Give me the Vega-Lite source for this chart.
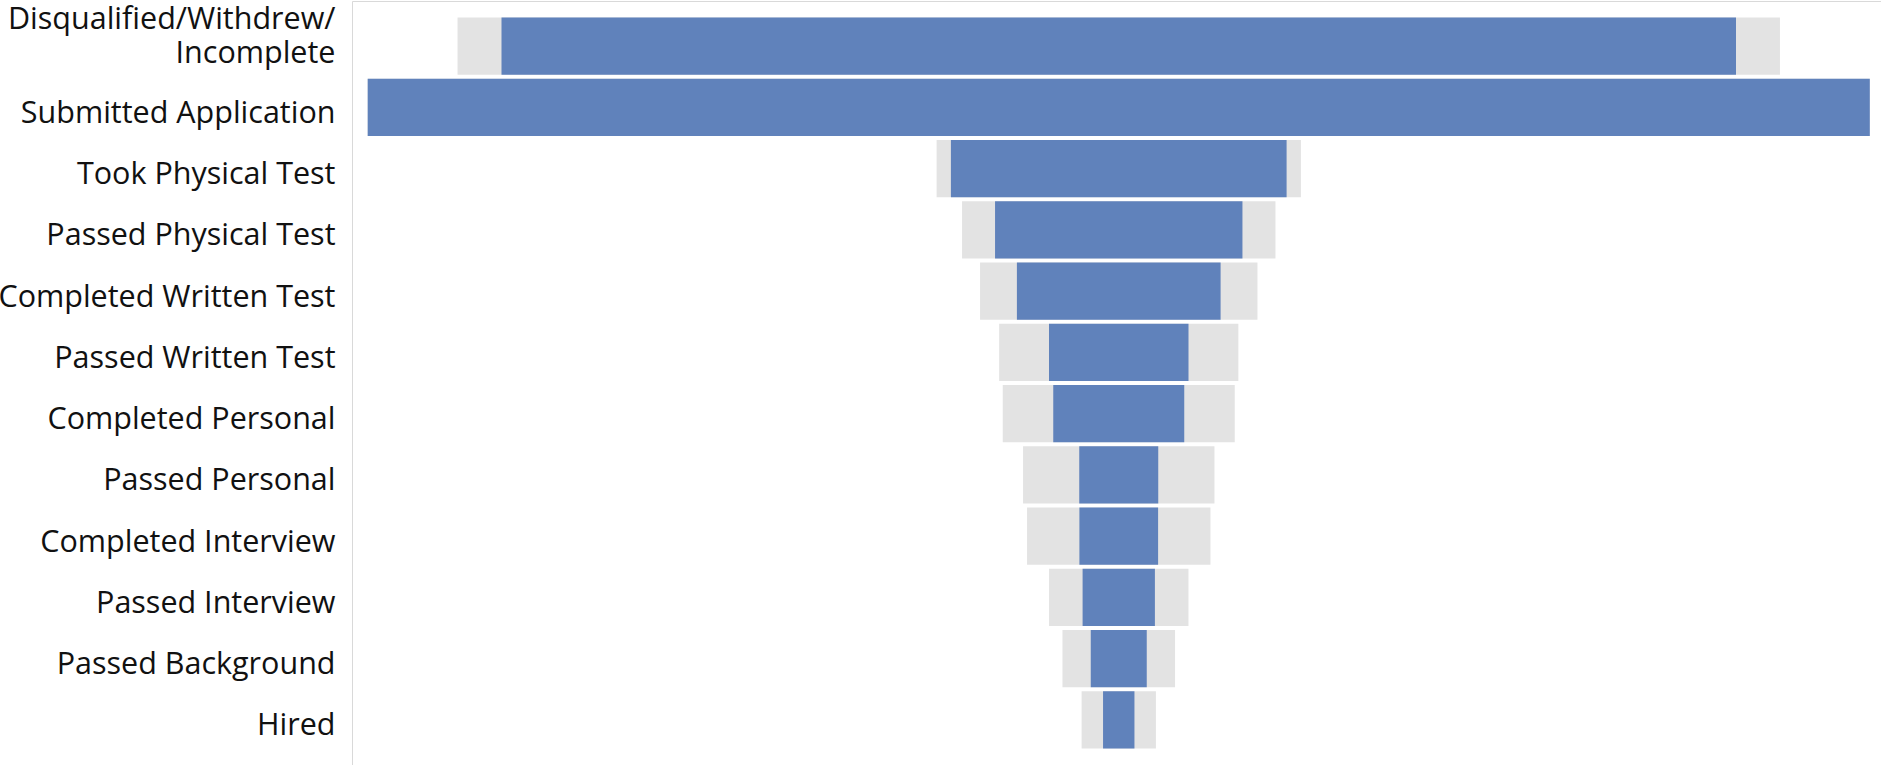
{
  "$schema": "https://vega.github.io/schema/vega-lite/v6.json",
  "autosize": {"type": "none"},
  "padding": {"left": 352, "top": 1, "right": 0, "bottom": 0},
  "width": 1529,
  "height": 764,
  "background": "#ffffff",
  "config": {
    "view": {"stroke": null},
    "font": "Open Sans"
  },
  "data": {
    "values": [
      {"stage": "Disqualified/Withdrew/Incomplete", "value": 1234.5, "reference": 1322.4},
      {"stage": "Submitted Application", "value": 1502.1, "reference": 1502.1},
      {"stage": "Took Physical Test", "value": 335.7, "reference": 364.3},
      {"stage": "Passed Physical Test", "value": 247.4, "reference": 313.4},
      {"stage": "Completed Written Test", "value": 203.7, "reference": 277.4},
      {"stage": "Passed Written Test", "value": 139.5, "reference": 239.2},
      {"stage": "Completed Personal", "value": 131.0, "reference": 232.0},
      {"stage": "Passed Personal", "value": 79.0, "reference": 191.4},
      {"stage": "Completed Interview", "value": 78.7, "reference": 183.4},
      {"stage": "Passed Interview", "value": 72.3, "reference": 139.4},
      {"stage": "Passed Background", "value": 56.0, "reference": 112.6},
      {"stage": "Hired", "value": 31.4, "reference": 74.3}
    ]
  },
  "encoding": {
    "y": {
      "field": "stage",
      "type": "nominal",
      "sort": null,
      "scale": {"paddingInner": 0.068, "paddingOuter": 0.27},
      "axis": {
        "title": null,
        "ticks": false,
        "domain": true,
        "domainColor": "#d9d9d9",
        "domainWidth": 1,
        "labelFont": "Open Sans",
        "labelFontSize": 30.5,
        "labelColor": "#111111",
        "labelPadding": 17,
        "labelLimit": 400,
        "labelLineHeight": 33.3,
        "labelBaseline": "alphabetic",
        "labelOffset": {"condition": {"test": "datum.value == 'Disqualified/Withdrew/Incomplete'", "value": -16.7}, "value": 15.5},
        "labelExpr": "datum.value == 'Disqualified/Withdrew/Incomplete' ? ['Disqualified/Withdrew/', 'Incomplete'] : datum.value"
      }
    }
  },
  "layer": [
    {
      "mark": {"type": "bar", "color": "#e3e3e3"},
      "encoding": {
        "x": {
          "field": "reference",
          "type": "quantitative",
          "stack": "center",
          "scale": {"domain": [-15.7, 1513.3], "nice": false, "zero": false},
          "axis": {"orient": "top", "title": null, "labels": false, "ticks": false, "grid": false, "domain": true, "domainColor": "#d9d9d9"}
        }
      }
    },
    {
      "mark": {"type": "bar", "color": "#6082bb"},
      "encoding": {
        "x": {
          "field": "value",
          "type": "quantitative",
          "stack": "center"
        }
      }
    }
  ]
}
